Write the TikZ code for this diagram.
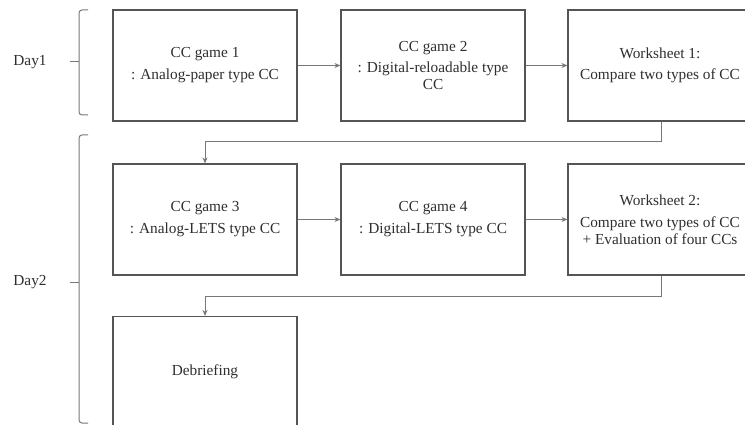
\documentclass[tikz,border=0pt]{standalone}
\usepackage{fontspec}
\setmainfont{Liberation Serif}
\usetikzlibrary{arrows.meta}
\definecolor{txt}{HTML}{2E2E2E}
\definecolor{boxline}{HTML}{555555}
\definecolor{conn}{HTML}{777777}
\tikzset{
  stepbox/.style={draw=boxline, line width=1.1pt, minimum width=184pt, minimum height=111pt,
    inner sep=0pt, align=center, text=txt, font=\fontsize{15.3}{17}\selectfont},
  daylabel/.style={text=txt, font=\fontsize{15.3}{17}\selectfont, inner sep=0pt},
  flow/.style={draw=conn, line width=1pt, -{Stealth[length=6pt,width=5pt]}},
  bracket/.style={draw=conn, line width=1pt, rounded corners=3pt}
}
\begin{document}
\begin{tikzpicture}[x=1pt,y=-1pt]
\useasboundingbox (0,0) rectangle (745,425);
\clip (0,0) rectangle (745,425);
% row 1
\node[stepbox] (g1) at (205,65.5) {CC game 1\\[5pt]: Analog-paper type CC};
\node[stepbox] (g2) at (433,65.5) {CC game 2\\[4pt]: Digital-reloadable type\\CC};
\node[stepbox] (w1) at (660,65.5) {Worksheet 1:\\[4pt]Compare two types of CC};
% row 2
\node[stepbox] (g3) at (205,219.5) {CC game 3\\[5pt]: Analog-LETS type CC};
\node[stepbox] (g4) at (433,219.5) {CC game 4\\[5pt]: Digital-LETS type CC};
\node[stepbox] (w2) at (660,219.5) {Worksheet 2:\\[5pt]Compare two types of CC\\+ Evaluation of four CCs};
% row 3
\node[stepbox] (db) at (205,372) {Debriefing};
% connectors
\draw[flow] (g1.east) -- (g2.west);
\draw[flow] (g2.east) -- (w1.west);
\draw[flow] (g3.east) -- (g4.west);
\draw[flow] (g4.east) -- (w2.west);
\coordinate (c1) at (661,142);
\coordinate (c2) at (205,142);
\draw[flow] (w1.south -| c1) -- (c1) -- (c2) -- (g3.north);
\coordinate (c3) at (661,296);
\coordinate (c4) at (205,296);
\draw[flow] (w2.south -| c3) -- (c3) -- (c4) -- (db.north);
% day labels and brackets
\node[daylabel] (day1) at (30,62) {Day1};
\node[daylabel] (day2) at (30,282) {Day2};
\draw[bracket] (88,10) -- (79,10) -- (79,115) -- (88,115);
\draw[draw=conn, line width=1pt] (70,62) -- (79,62);
\draw[bracket] (88,135) -- (79,135) -- (79,423) -- (88,423);
\draw[draw=conn, line width=1pt] (70,282) -- (79,282);
\end{tikzpicture}
\end{document}
